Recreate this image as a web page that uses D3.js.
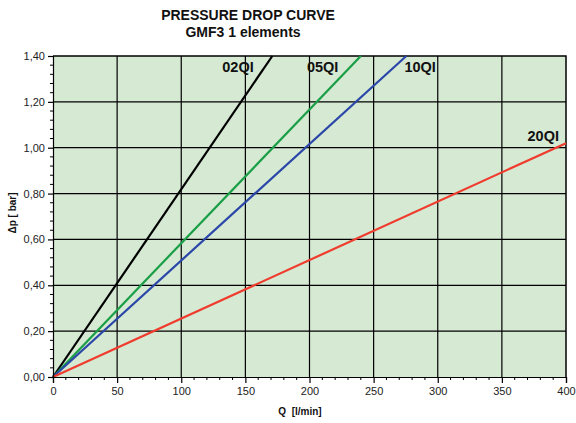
<!DOCTYPE html>
<html><head><meta charset="utf-8">
<script src="https://cdn.jsdelivr.net/npm/d3@7"></script>
<style>body{margin:0;background:#fff;}svg{display:block;font-family:Arial,"Liberation Sans",sans-serif;}</style>
</head><body><svg id="c" width="576" height="423"></svg>
<script>
const seriesNames = ["02QI", "05QI", "10QI", "20QI"];
const seriesColors = ["#000000", "#1a9e46", "#2a46a8", "#f03c2e"];
const flowQ = [[0, 171], [0, 240], [0, 275.5], [0, 400]];
const deltaP = [[0, 1.40], [0, 1.40], [0, 1.40], [0, 1.02]];
const xTicks = [0, 50, 100, 150, 200, 250, 300, 350, 400];
const yTicks = [0, 0.2, 0.4, 0.6, 0.8, 1.0, 1.2, 1.4];
const labelPos = [[132, 1.33], [198, 1.33], [274, 1.33], [370, 1.03]];

const svg = d3.select("#c");
const L = 53, R = 566, T = 56, B = 377;
const x = d3.scaleLinear().domain([0, 400]).range([L, R]);
const y = d3.scaleLinear().domain([0, 1.4]).range([B, T]);
const fmt = v => d3.format(".2f")(v).replace(".", ",");

svg.append("rect").attr("x", L).attr("y", T).attr("width", R - L).attr("height", B - T).attr("fill", "#d5e9d3");

// grid
svg.append("g").selectAll("line").data(xTicks.slice(1, -1)).join("line")
  .attr("x1", d => x(d)).attr("x2", d => x(d)).attr("y1", T).attr("y2", B)
  .attr("stroke", "#000").attr("stroke-width", 1.2);
svg.append("g").selectAll("line").data(yTicks.slice(1, -1)).join("line")
  .attr("y1", d => y(d)).attr("y2", d => y(d)).attr("x1", L).attr("x2", R)
  .attr("stroke", "#000").attr("stroke-width", 1.2);

// border top/right
svg.append("path").attr("d", `M${L},${T}H${R}V${B}`).attr("fill", "none").attr("stroke", "#000").attr("stroke-width", 1.5);

// lines
const line = d3.line().x(d => x(d[0])).y(d => y(d[1]));
seriesNames.forEach((n, i) => {
  const pts = flowQ[i].map((q, j) => [q, deltaP[i][j]]);
  svg.append("path").attr("d", line(pts)).attr("fill", "none")
    .attr("stroke", seriesColors[i]).attr("stroke-width", 2.2);
});

// axes
const xAxis = svg.append("g").attr("transform", `translate(0,${B})`)
  .call(d3.axisBottom(x).tickValues(xTicks).tickSize(6).tickPadding(4).tickFormat(d3.format("d")));
const yAxis = svg.append("g").attr("transform", `translate(${L},0)`)
  .call(d3.axisLeft(y).tickValues(yTicks).tickSize(5).tickPadding(3).tickFormat(fmt));
[xAxis, yAxis].forEach(a => {
  a.select(".domain").attr("stroke", "#000").attr("stroke-width", 1.2);
  a.selectAll(".tick line").attr("stroke", "#000").attr("stroke-width", 1.2);
  a.selectAll("text").attr("font-size", 11).attr("fill", "#222").attr("font-family", "Arial, Liberation Sans, sans-serif");
});
// minor ticks
svg.append("g").selectAll("line").data(d3.range(0, 401, 10).filter(v => v % 50 !== 0)).join("line")
  .attr("x1", d => x(d)).attr("x2", d => x(d)).attr("y1", B).attr("y2", B + 3)
  .attr("stroke", "#000");
svg.append("g").selectAll("line").data(d3.range(0, 35).map(i => i * 0.04).filter((v, i) => i % 5 !== 0)).join("line")
  .attr("y1", d => y(d)).attr("y2", d => y(d)).attr("x1", L - 3).attr("x2", L)
  .attr("stroke", "#000");

// series labels
seriesNames.forEach((n, i) => {
  svg.append("text").attr("x", x(labelPos[i][0])).attr("y", y(labelPos[i][1]))
    .attr("font-size", 14.5).attr("font-weight", "bold").attr("fill", "#111").text(n);
});

// titles
svg.append("text").attr("x", 248).attr("y", 20).attr("text-anchor", "middle")
  .attr("font-size", 14).attr("font-weight", "bold").attr("fill", "#111").text("PRESSURE DROP CURVE");
svg.append("text").attr("x", 243).attr("y", 37).attr("text-anchor", "middle")
  .attr("font-size", 14).attr("font-weight", "bold").attr("fill", "#111").text("GMF3 1 elements");
svg.append("text").attr("x", 300).attr("y", 415).attr("text-anchor", "middle")
  .attr("font-size", 10).attr("font-weight", "bold").attr("fill", "#111").attr("xml:space", "preserve").text("Q  [l/min]");
svg.append("text").attr("transform", "translate(16,213) rotate(-90)").attr("text-anchor", "middle")
  .attr("font-size", 10).attr("font-weight", "bold").attr("fill", "#111").text("Δp [ bar]");
</script></body></html>
